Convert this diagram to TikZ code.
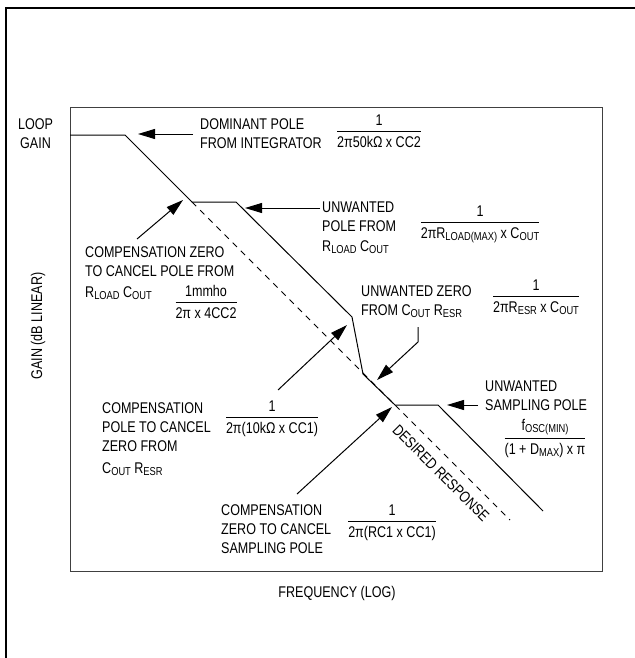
\documentclass[tikz,border=0pt]{standalone}
\usepackage{amsmath}
\usepackage{fontspec}
\setmainfont{Liberation Sans}[FakeStretch=0.81]
\usetikzlibrary{arrows.meta}

\newcommand{\lblfont}{\fontsize{15.5}{19}\selectfont}
\newcommand{\sbs}[1]{\raisebox{-2pt}{\fontsize{11.5}{11.5}\selectfont #1}}
\newcommand{\frc}[2]{$\genfrac{}{}{1pt}{0}{\mbox{#1}}{\mbox{\rule{0pt}{13pt}#2}}$}

\tikzset{%
  % Specifications for style of nodes:
         txt/.style = {font=\lblfont, inner sep=0pt, align=left, anchor=west},
     fracbox/.style = {font=\lblfont, inner sep=0pt, anchor=base, yshift=-3.9pt},
  % Specifications for style of lines:
        resp/.style = {line width=1pt, line join=miter},
       ideal/.style = {line width=1pt, dash pattern=on 6pt off 5.5pt},
         arr/.style = {-{Triangle[length=17pt,width=10pt]}, line width=1pt},
}

\begin{document}
\begin{tikzpicture}[x=1pt, y=-1pt]
    \useasboundingbox (0,0) rectangle (634,658);

    % Frames
    \draw[line width=2pt] (5.5,8) rectangle (680,700);
    \draw[black!75, line width=1pt] (70,108) rectangle (602,571);

    % Break points of the response
    \coordinate (lg) at (70,135);
    \coordinate (p1) at (125,135);
    \coordinate (z1) at (192,202);
    \coordinate (p2) at (236,202);
    \coordinate (z2) at (352,317);
    \coordinate (p3) at (363,374);
    \coordinate (z3) at (395,405);
    \coordinate (p4) at (438,405);
    \coordinate (ed) at (543,511);
    \coordinate (de) at (510,520);

    \draw[resp]  (lg) -- (p1) -- (z1) -- (p2) -- (z2) -- (p3) -- (z3) -- (p4) -- (ed);
    \draw[ideal] (z1) -- (de);

    % Draw nodes
    \node (loop) [txt, align=center, anchor=center] at (35.5,134) {LOOP\\GAIN};
    \node (dom)  [txt]     at (200,134) {DOMINANT POLE\\FROM INTEGRATOR};
    \node (fdom) [fracbox] at (379,131) {\frc{1}{2π50kΩ x CC2}};

    \node (unp)  [txt]     at (322,228) {UNWANTED\\POLE FROM\\[1pt]R\sbs{LOAD} C\sbs{OUT}};
    \node (funp) [fracbox] at (480,222) {\frc{1}{2πR\sbs{LOAD(MAX)} x C\sbs{OUT}}};

    \node (unz)  [txt]     at (361,302) {UNWANTED ZERO\\FROM C\sbs{OUT} R\sbs{ESR}};
    \node (funz) [fracbox] at (536,296) {\frc{1}{2πR\sbs{ESR} x C\sbs{OUT}}};

    \node (cz)   [txt]     at (85,273) {COMPENSATION ZERO\\TO CANCEL POLE FROM\\[2pt]R\sbs{LOAD} C\sbs{OUT}};
    \node (fcz)  [fracbox] at (206,302) {\frc{1mmho}{2π x 4CC2}};

    \node (cp)   [txt]     at (102,439) {COMPENSATION\\POLE TO CANCEL\\ZERO FROM\\[3pt]C\sbs{OUT} R\sbs{ESR}};
    \node (fcp)  [fracbox] at (272,417) {\frc{1}{2π(10kΩ x CC1)}};

    \node (usp)  [txt]     at (485,396) {UNWANTED\\SAMPLING POLE};
    \node (fusp) [fracbox] at (545,438) {\frc{f\sbs{OSC(MIN)}}{(1 + D\sbs{MAX}) x π}};

    \node (czs)  [txt]     at (221,529) {COMPENSATION\\ZERO TO CANCEL\\SAMPLING POLE};
    \node (fczs) [fracbox] at (392,521) {\frc{1}{2π(RC1 x CC1)}};

    \node (des)  [txt, anchor=center, rotate=-45] at (441,473) {DESIRED RESPONSE};
    \node (freq) [txt, anchor=center] at (337,593) {FREQUENCY (LOG)};
    \node (gain) [txt, anchor=center, rotate=90] at (38,326) {GAIN (dB LINEAR)};

    % Arrow ends
    \coordinate (s2) at (137,239);  \coordinate (t2) at (183,200);
    \coordinate (s3) at (320,208);  \coordinate (t3) at (245,208);
    \coordinate (s4) at (418,327);  \coordinate (t4) at (377,380);
    \coordinate (s5) at (278,390);  \coordinate (t5) at (347,325);
    \coordinate (s6) at (297,494);  \coordinate (t6) at (392,407);
    \coordinate (s7) at (478,405);  \coordinate (t7) at (447,405);

    % Draw arrows
    \draw[arr] ([xshift=-7pt]dom.west) -- ([xshift=13pt,yshift=1pt]p1);
    \draw[arr] (s2) -- (t2);
    \draw[arr] (s3) -- (t3);
    \draw[arr] (s4) -- ++(0,15) -- (t4);
    \draw[arr] (s5) -- (t5);
    \draw[arr] (s6) -- (t6);
    \draw[arr] (s7) -- (t7);

\end{tikzpicture}
\end{document}
